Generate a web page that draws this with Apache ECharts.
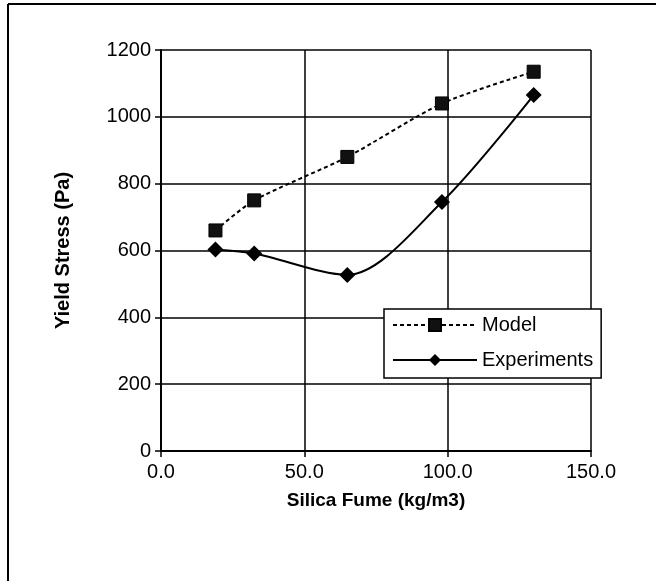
<!DOCTYPE html>
<html>
<head>
<meta charset="utf-8">
<script src="https://cdn.jsdelivr.net/npm/echarts@6/dist/echarts.min.js"></script>
<style>
  html, body { margin: 0; padding: 0; background: #fff; }
  #main { width: 656px; height: 581px; }
</style>
</head>
<body>
<div id="main"></div>
<script>
// silica fume dosage (kg/m3)
var silicaFume = [19, 32.5, 65, 98, 130];
// yield stress (Pa)
var modelValues = [660, 750, 880, 1040, 1135];
var experimentValues = [603, 591, 527, 745, 1065];
var yTicks = [0, 200, 400, 600, 800, 1000, 1200];
var xTicks = [0, 50, 100, 150];

function pairs(xs, ys) {
    return xs.map(function (x, i) { return [x, ys[i]]; });
}

var myChart = echarts.init(document.getElementById('main'));
var font = 'Liberation Sans, Arial, sans-serif';

myChart.setOption({
    animation: false,
    backgroundColor: '#fff',
    graphic: [
        { type: 'line', shape: { x1: 8, y1: 4, x2: 656, y2: 4 }, style: { stroke: '#000', lineWidth: 2 } },
        { type: 'line', shape: { x1: 8, y1: 4, x2: 8, y2: 581 }, style: { stroke: '#000', lineWidth: 2 } }
    ],
    grid: { left: 161, right: 65, top: 50, bottom: 130 },
    legend: {
        orient: 'vertical',
        left: 384,
        top: 309,
        padding: [6, 8, 8, 8],
        itemGap: 15,
        itemWidth: 84,
        itemHeight: 15,
        backgroundColor: '#fff',
        borderColor: '#000',
        borderWidth: 1.5,
        borderRadius: 0,
        textStyle: { fontFamily: font, fontSize: 20, color: '#000' },
        data: ['Model', 'Experiments']
    },
    xAxis: {
        type: 'value',
        min: xTicks[0],
        max: xTicks[xTicks.length - 1],
        interval: 50,
        name: 'Silica Fume (kg/m3)',
        nameLocation: 'middle',
        nameGap: 40,
        nameTextStyle: { fontFamily: font, fontSize: 19, fontWeight: 'bold', color: '#000' },
        axisLine: { lineStyle: { color: '#000', width: 2 } },
        axisTick: { show: true, length: 6, inside: false, lineStyle: { color: '#000', width: 1.5 } },
        axisLabel: {
            fontFamily: font, fontSize: 20, color: '#000', margin: 11,
            formatter: function (v) { return v.toFixed(1); }
        },
        splitLine: { show: true, lineStyle: { color: '#000', width: 1.5 } }
    },
    yAxis: {
        type: 'value',
        min: yTicks[0],
        max: yTicks[yTicks.length - 1],
        interval: 200,
        name: 'Yield Stress (Pa)',
        nameLocation: 'middle',
        nameGap: 88,
        nameTextStyle: { fontFamily: font, fontSize: 20, fontWeight: 'bold', color: '#000' },
        axisLine: { show: true, lineStyle: { color: '#000', width: 2 } },
        axisTick: { show: true, length: 6, lineStyle: { color: '#000', width: 1.5 } },
        axisLabel: {
            fontFamily: font, fontSize: 20, color: '#000', margin: 10,
            formatter: function (v) { return String(v); }
        },
        splitLine: { show: true, lineStyle: { color: '#000', width: 1.5 } }
    },
    series: [
        {
            name: 'Model',
            type: 'line',
            data: pairs(silicaFume, modelValues),
            smooth: 0.25,
            symbol: 'rect',
            symbolSize: 13,
            itemStyle: { color: '#111', borderColor: '#000', borderWidth: 1 },
            lineStyle: { color: '#000', width: 2, type: [4, 3] },
            z: 3
        },
        {
            name: 'Experiments',
            type: 'line',
            data: pairs(silicaFume, experimentValues),
            smooth: 0.3,
            symbol: 'diamond',
            symbolSize: 16,
            itemStyle: { color: '#000' },
            lineStyle: { color: '#000', width: 2 },
            z: 3
        }
    ]
});
</script>
</body>
</html>
